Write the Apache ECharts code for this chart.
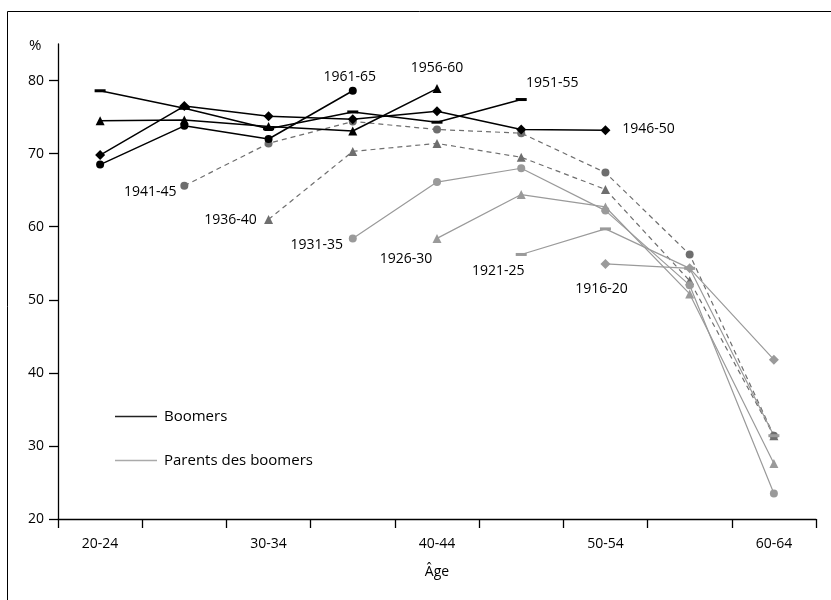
<!DOCTYPE html>
<html>
<head>
<meta charset="utf-8">
<script src="https://cdn.jsdelivr.net/npm/echarts@6/dist/echarts.min.js"></script>
<style>html,body{margin:0;padding:0;background:#fff}#c{width:831px;height:600px}</style>
</head>
<body>
<div id="c"></div>
<script>
var categories = ['20-24','25-29','30-34','35-39','40-44','45-49','50-54','55-59','60-64'];
var yTicks = [20,30,40,50,60,70,80];

var c1961 = [68.5,73.8,72.0,78.6,null,null,null,null,null];
var c1956 = [74.5,74.6,73.7,73.1,78.9,null,null,null,null];
var c1951 = [78.6,76.2,73.4,75.7,74.3,77.4,null,null,null];
var c1946 = [69.8,76.5,75.1,74.7,75.8,73.3,73.2,null,null];
var c1941 = [null,65.6,71.4,74.4,73.3,72.8,67.4,56.2,31.4];
var c1936 = [null,null,61.0,70.3,71.4,69.5,65.1,52.6,31.4];
var c1931 = [null,null,null,58.4,66.1,68.0,62.2,52.0,23.5];
var c1926 = [null,null,null,null,58.4,64.4,62.7,50.8,27.6];
var c1921 = [null,null,null,null,null,56.2,59.7,54.3,31.4];
var c1916 = [null,null,null,null,null,null,54.9,54.3,41.8];

var FONT = 'Open Sans';
var BLACK = '#000', DARK = '#6e6e6e', LIGHT = '#9a9a9a';

function mk(name, values, color, symbol, size, dashed, labelIdx, offset, width) {
  var data = values.map(function (v, i) {
    if (i === labelIdx) {
      return { value: v, label: { show: true, formatter: name, position: 'inside', offset: offset,
        color: '#000', fontFamily: FONT, fontSize: 14 } };
    }
    return v;
  });
  return {
    name: name, type: 'line', data: data, symbol: symbol, symbolSize: size,
    showSymbol: true, connectNulls: false, silent: true, legendHoverLink: false,
    lineStyle: { color: dashed ? DARK : color, width: width, type: dashed ? [5, 4] : 'solid' },
    itemStyle: { color: color },
    z: color === BLACK ? 5 : 3
  };
}

var series = [
  mk('1961-65', c1961, BLACK, 'circle', 8, false, 3, [-3, -14], 1.5),
  mk('1956-60', c1956, BLACK, 'triangle', 9, false, 4, [0, -21], 1.5),
  mk('1951-55', c1951, BLACK, 'rect', [11, 3], false, 5, [31, -17], 1.5),
  mk('1946-50', c1946, BLACK, 'diamond', 10, false, 6, [43, -1], 1.5),
  mk('1941-45', c1941, DARK, 'circle', 8, true, 1, [-34, 6], 1.2),
  mk('1936-40', c1936, DARK, 'triangle', 9, true, 2, [-38, 1], 1.2),
  mk('1931-35', c1931, LIGHT, 'circle', 8, false, 3, [-36, 7], 1.2),
  mk('1926-30', c1926, LIGHT, 'triangle', 9, false, 4, [-31, 21], 1.2),
  mk('1921-25', c1921, LIGHT, 'rect', [11, 3], false, 5, [-23, 17], 1.2),
  mk('1916-20', c1916, LIGHT, 'diamond', 10, false, 6, [-4, 25], 1.2),
  { name: 'Boomers', type: 'line', data: [], symbol: 'none', lineStyle: { color: '#222', width: 1.5 }, itemStyle: { color: '#222' } },
  { name: 'Parents des boomers', type: 'line', data: [], symbol: 'none', lineStyle: { color: '#aaa', width: 1.5 }, itemStyle: { color: '#aaa' } }
];

var chart = echarts.init(document.getElementById('c'), null, { renderer: 'canvas' });
chart.setOption({
  animation: false,
  backgroundColor: '#fff',
  textStyle: { fontFamily: FONT },
  grid: { left: 58, right: 15, top: 44, bottom: 81, containLabel: false },
  graphic: [
    { type: 'rect', shape: { x: 7.5, y: 11.5, width: 900, height: 800 }, style: { fill: 'none', stroke: '#000', lineWidth: 1 }, silent: true },
    { type: 'text', left: 29, top: 38, style: { text: '%', font: '15px "Open Sans"', fill: '#000' } }
  ],
  legend: {
    data: [
      { name: 'Boomers', icon: 'rect', itemStyle: { color: '#222' } },
      { name: 'Parents des boomers', icon: 'rect', itemStyle: { color: '#aaa' } }
    ],
    orient: 'vertical', left: 110, top: 404,
    itemWidth: 42, itemHeight: 1.6, itemGap: 29,
    textStyle: { fontFamily: FONT, fontSize: 15, color: '#000', padding: [0, 0, 0, 2] },
    selectedMode: false
  },
  xAxis: {
    type: 'category', data: categories, boundaryGap: true,
    name: 'Âge', nameLocation: 'middle', nameGap: 46,
    nameTextStyle: { fontFamily: FONT, fontSize: 14, color: '#000' },
    axisLine: { lineStyle: { color: '#000', width: 1.3 } },
    axisTick: { show: true, interval: 0, length: 9, lineStyle: { color: '#000', width: 1.3 } },
    axisLabel: { interval: 1, margin: 18, fontFamily: FONT, fontSize: 14, color: '#000' },
    splitLine: { show: false }
  },
  yAxis: {
    type: 'value', min: 20, max: 85, interval: 10,
    axisLine: { show: true, lineStyle: { color: '#000', width: 1.3 } },
    axisTick: { show: true, length: 9, customValues: yTicks, lineStyle: { color: '#000', width: 1.3 } },
    axisLabel: { customValues: yTicks, margin: 14, fontFamily: FONT, fontSize: 14, color: '#000' },
    splitLine: { show: false }
  },
  series: series
});
</script>
</body>
</html>
